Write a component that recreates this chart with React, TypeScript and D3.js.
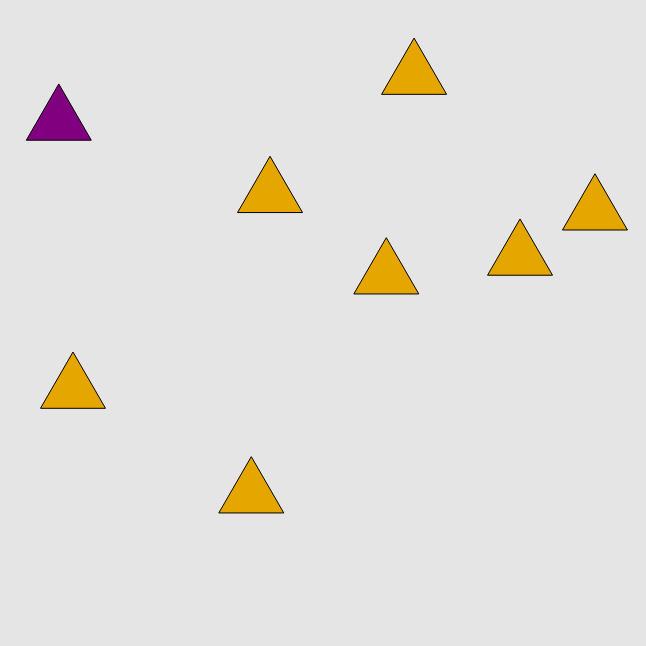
import * as d3 from "d3";
import { useRef, useEffect } from "react";

// data, in chart units (0..10 on both axes)
const xs = [0.91, 6.41, 4.18, 9.21, 8.05, 5.98, 1.13, 3.89];
const ys = [8.12, 8.83, 7.0, 6.73, 6.03, 5.74, 3.97, 2.35];
const groups = ["highlight", "base", "base", "base", "base", "base", "base", "base"];

const colorOf: Record<string, string> = { highlight: "#800080", base: "#e6a600" };

export default function App() {
  const ref = useRef<SVGSVGElement>(null);

  useEffect(() => {
    const width = 646;
    const height = 646;

    const x = d3.scaleLinear().domain([0, 10]).range([0, width]);
    const y = d3.scaleLinear().domain([0, 10]).range([height, 0]);

    const svg = d3.select(ref.current)
      .attr("width", width)
      .attr("height", height)
      .attr("viewBox", `0 0 ${width} ${height}`);

    svg.selectAll("*").remove();

    svg.append("rect")
      .attr("width", width)
      .attr("height", height)
      .attr("fill", "#e5e5e5");

    const tri = d3.symbol(d3.symbolTriangle, 1829);

    svg.append("g")
      .selectAll("path")
      .data(xs.map((v, i) => ({ x: v, y: ys[i], g: groups[i] })))
      .join("path")
        .attr("d", tri)
        .attr("transform", d => `translate(${x(d.x)},${y(d.y)})`)
        .attr("fill", d => colorOf[d.g])
        .attr("stroke", "#000")
        .attr("stroke-width", 1);
  }, []);

  return (
    <div style={{ position: "fixed", left: 0, top: 0, width: 646, height: 646 }}>
      <svg ref={ref} style={{ display: "block" }}></svg>
    </div>
  );
}
